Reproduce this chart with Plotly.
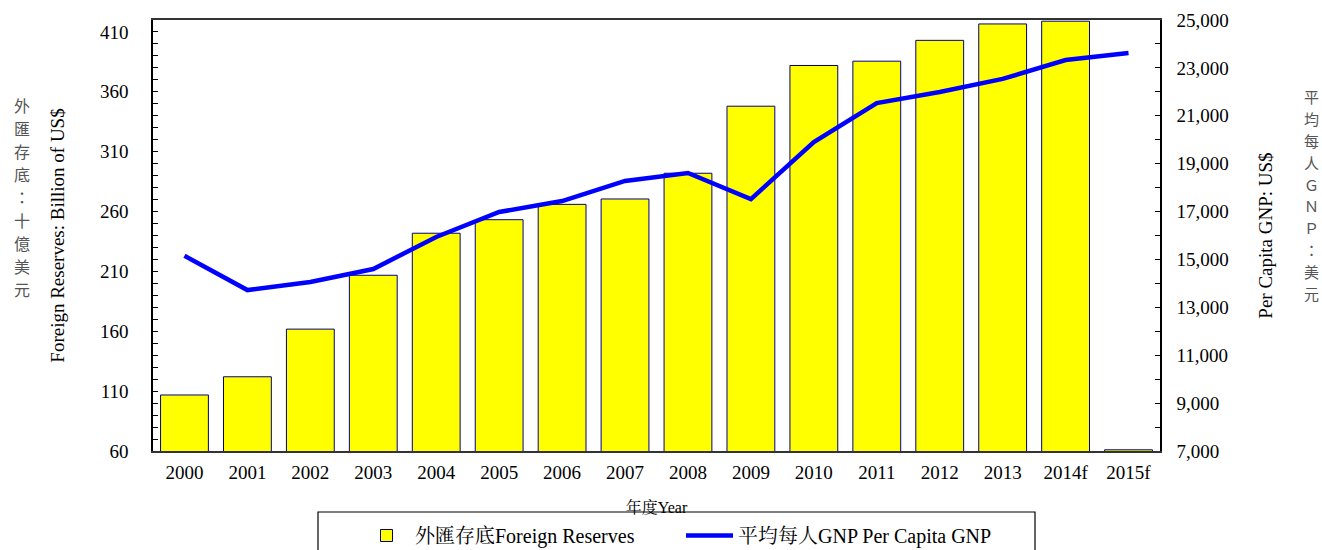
import plotly.graph_objects as go

years = ["2000", "2001", "2002", "2003", "2004", "2005", "2006", "2007",
         "2008", "2009", "2010", "2011", "2012", "2013", "2014f", "2015f"]
reserves = [106.8, 122.0, 161.8, 206.8, 241.9, 253.2, 266.0, 270.5,
            292.0, 348.0, 382.0, 385.6, 403.0, 416.7, 419.0, 61.0]
gnp = [15150, 13720, 14060, 14600, 15940, 16980, 17440, 18280,
       18610, 17520, 19900, 21530, 21990, 22540, 23330, 23620]

SERIF = "Liberation Serif, Times New Roman, Noto Serif CJK TC, Noto Sans CJK TC, serif"
CJK = "Noto Sans CJK TC, Noto Sans CJK SC, sans-serif"

# plot-area geometry in pixels
L, R, T, B = 153, 1160, 20, 451
W, H = 1322, 550

fig = go.Figure()
fig.add_trace(go.Bar(
    x=years, y=reserves, name="外匯存底Foreign Reserves",
    marker=dict(color="#FFFF00", line=dict(color="#000080", width=1)),
    width=0.76, yaxis="y",
))
fig.add_trace(go.Scatter(
    x=years, y=gnp, name="平均每人GNP Per Capita GNP", mode="lines",
    line=dict(color="#0000FF", width=4.5), yaxis="y2",
))

fig.update_layout(
    width=W, height=H,
    margin=dict(l=L, r=W - R, t=T, b=H - B, autoexpand=False),
    paper_bgcolor="white", plot_bgcolor="white",
    font=dict(family=SERIF, size=19, color="black"),
    showlegend=True,
    legend=dict(
        orientation="h", xref="container", yref="container",
        x=358 / W, y=1 - 516 / H, xanchor="left", yanchor="top",
        bgcolor="white", borderwidth=0,
        entrywidth=261, itemwidth=47,
        font=dict(family=SERIF, size=20),
    ),
    xaxis=dict(
        type="category", showline=True, linecolor="#333", linewidth=1.5,
        mirror=True, ticks="", showgrid=False, ticklabelstandoff=3,
        tickfont=dict(size=19), automargin=True,
        title=dict(text="年度Year", font=dict(size=16), standoff=38),
    ),
    yaxis=dict(
        range=[60, 420], tick0=60, dtick=50, showline=True, linecolor="black",
        linewidth=1.5, ticks="inside", ticklen=5, tickcolor="black",
        minor=dict(ticks="inside", ticklen=5, dtick=10, tickcolor="black"),
        showgrid=False, zeroline=False, ticklabelstandoff=19, automargin=False,
        tickfont=dict(size=19),
        title=dict(text="Foreign Reserves: Billion of US$", font=dict(size=19), standoff=30),
    ),
    yaxis2=dict(
        overlaying="y", side="right", range=[7000, 25000], tick0=7000, dtick=2000,
        tickformat=",d", showline=True, linecolor="black", linewidth=1.5,
        ticks="inside", ticklen=5, tickcolor="black",
        minor=dict(ticks="inside", ticklen=5, dtick=1000, tickcolor="black"),
        showgrid=False, zeroline=False, ticklabelstandoff=11, automargin=False,
        tickfont=dict(size=19),
        title=dict(text="Per Capita GNP: US$", font=dict(size=19), standoff=31),
    ),
)

# legend frame
fig.add_shape(
    type="rect", xref="paper", yref="paper",
    x0=(318 - L) / (R - L), x1=(1035 - L) / (R - L),
    y0=(B - 570) / (B - T), y1=(B - 512) / (B - T),
    line=dict(color="black", width=1.2), fillcolor="rgba(0,0,0,0)", layer="above",
)

# vertical Chinese axis captions, one character per line
left_cjk = list("外匯存底：十億美元")
right_cjk = list("平均每人ＧＮＰ：美元")


def vertical_text(chars, xpx, ypx_center, step, size):
    n = len(chars)
    for i, ch in enumerate(chars):
        ypx = ypx_center + (i - (n - 1) / 2) * step
        fig.add_annotation(
            text=ch, xref="paper", yref="paper",
            x=(xpx - L) / (R - L), y=(B - ypx) / (B - T),
            xanchor="center", yanchor="middle", showarrow=False,
            font=dict(family=CJK, size=size, color="#555"),
        )


vertical_text(left_cjk, 22, 197, 23.1, 16)
vertical_text(right_cjk, 1311, 195, 21.8, 15)

fig.write_html(
    "out.html",
    config={"displayModeBar": False},
    post_script="document.body.style.margin='0';document.body.style.overflow='hidden';",
)
